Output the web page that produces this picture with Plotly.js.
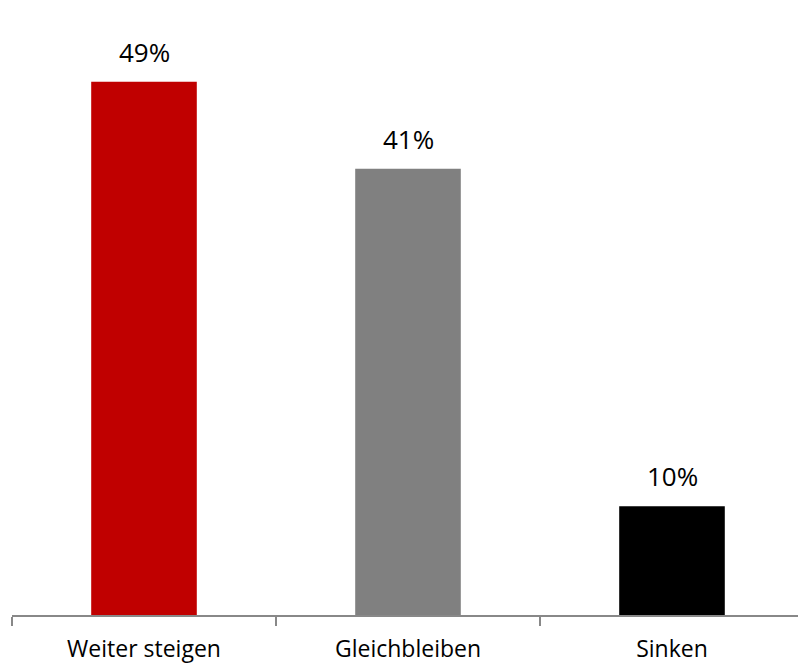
<!DOCTYPE html>
<html><head><meta charset="utf-8">
<script src="https://cdn.plot.ly/plotly-3.0.1.min.js"></script>
<style>html,body{margin:0;padding:0;overflow:hidden;background:#fff}</style>
</head><body>
<div id="chart" style="width:804px;height:664px"></div>
<script>
const categories = ["Weiter steigen", "Gleichbleiben", "Sinken"];
const values = [49, 41, 10];
const labels = ["49%", "41%", "10%"];
const colors = ["#C00000", "#808080", "#000000"];

const fontFam = "Open Sans, Lato, sans-serif";
const trace = {
  type: "bar", x: categories, y: values,
  marker: {color: colors}, width: 0.4, hoverinfo: "none"
};
const annotations = categories.map((c, i) => ({
  x: c, y: values[i], text: labels[i], showarrow: false,
  yanchor: "middle", yshift: 30, font: {family: fontFam, size: 26, color: "#000"}
}));
const layout = {
  width: 804, height: 664,
  margin: {l: 12, r: 0, t: 0, b: 49},
  paper_bgcolor: "#fff", plot_bgcolor: "#fff",
  showlegend: false,
  xaxis: {
    showline: true, linecolor: "#888", linewidth: 1.5,
    ticks: "outside", tickson: "boundaries", ticklen: 9, tickcolor: "#888", tickwidth: 1.5,
    ticklabelstandoff: 13,
    tickfont: {family: fontFam, size: 23, color: "#000"},
    showgrid: false, zeroline: false
  },
  yaxis: {range: [0, 56.5], visible: false, showgrid: false, zeroline: false},
  annotations: annotations
};
Plotly.newPlot("chart", [trace], layout, {displayModeBar: false, staticPlot: true});
</script>
</body></html>
